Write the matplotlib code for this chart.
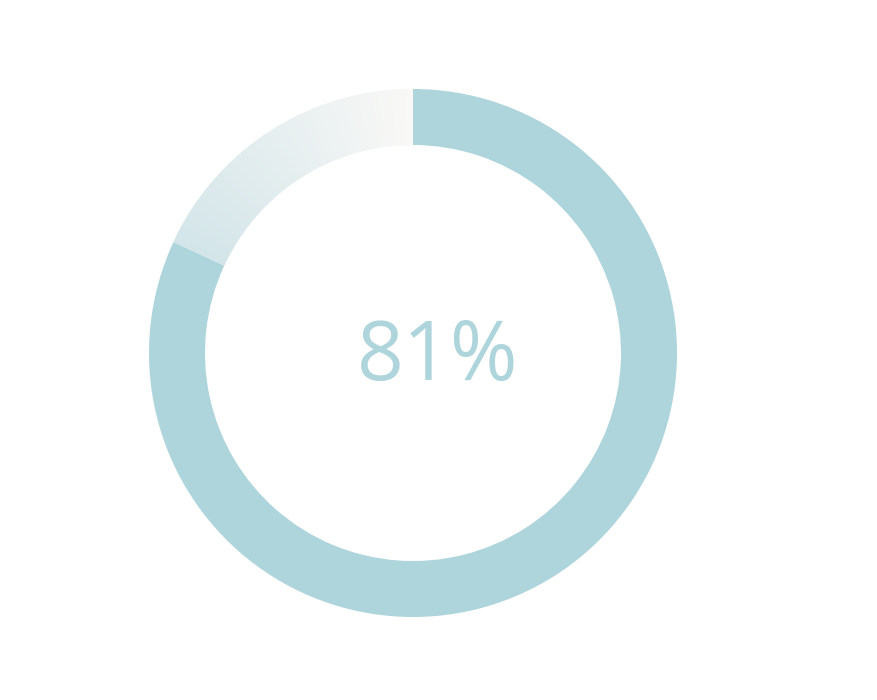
import matplotlib
matplotlib.use("Agg")
import matplotlib.pyplot as plt
from matplotlib.patches import Wedge
import numpy as np

# data
value = 81.9  # percent (arc)
label = f"{int(value)}%"

fill_color = "#aed4dc"
grad_start = np.array([0xd3, 0xe5, 0xe9]) / 255
grad_end = np.array([0xf9, 0xf8, 0xf6]) / 255

W, H = 877, 700
fig = plt.figure(figsize=(W / 100, H / 100), dpi=100)
ax = fig.add_axes([0, 0, 1, 1])
ax.set_xlim(0, W)
ax.set_ylim(0, H)
ax.set_aspect("equal")
ax.axis("off")

cx, cy = 413, H - 353
r_out = 264
ring_w = 56

start = 90
end_fill = 90 - value / 100 * 360  # clockwise
ax.add_patch(Wedge((cx, cy), r_out, end_fill, start, width=ring_w,
                   facecolor=fill_color, edgecolor="none"))

# remaining with gradient
n = 200
rem_start = end_fill + 360
angles = np.linspace(90, rem_start, n + 1)
for i in range(n):
    t = i / n
    c = grad_end * (1 - t) + grad_start * t
    a2 = angles[i + 1] + (0.3 if i < n - 1 else 0)
    ax.add_patch(Wedge((cx, cy), r_out, angles[i], a2,
                       width=ring_w, facecolor=c, edgecolor="none"))

ax.text(438, H - 359, label, ha="center", va="center", fontsize=59,
        color=fill_color, family=["Open Sans", "DejaVu Sans"], fontweight="normal")

fig.savefig("out.png", dpi=100)
